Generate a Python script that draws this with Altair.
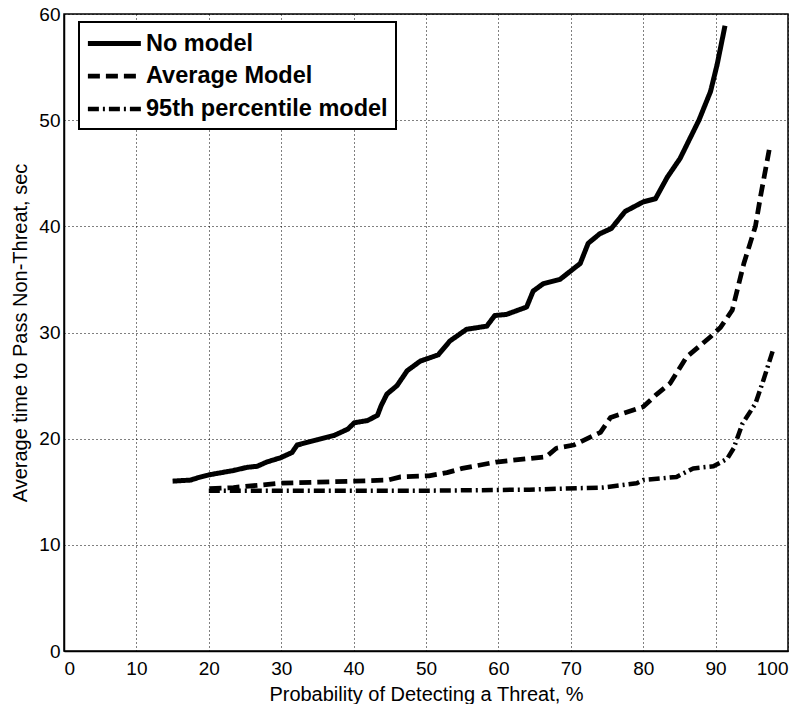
import altair as alt
import pandas as pd

series_names = ["No model", "Average Model", "95th percentile model"]

no_model_x = [15.0, 17.5, 18.4, 20.1, 23.4, 25.3, 26.7, 28.0, 29.9, 31.5, 32.2, 35.0, 37.3, 39.2,
              40.1, 41.9, 43.3, 43.8, 44.6, 46.0, 47.4, 49.2, 51.7, 53.3, 55.6, 58.4, 59.5, 61.1,
              63.9, 64.8, 66.2, 68.5, 71.3, 72.4, 74.0, 75.6, 77.5, 80.0, 81.7, 83.3, 85.1, 87.7,
              89.3, 90.2, 91.3]
no_model_y = [16.0, 16.1, 16.3, 16.6, 17.0, 17.3, 17.4, 17.8, 18.2, 18.7, 19.4, 19.9, 20.3, 20.9,
              21.5, 21.7, 22.2, 23.1, 24.2, 25.0, 26.4, 27.3, 27.9, 29.2, 30.3, 30.6, 31.6, 31.7,
              32.4, 33.9, 34.6, 35.0, 36.5, 38.4, 39.3, 39.8, 41.4, 42.3, 42.6, 44.6, 46.4, 50.0,
              52.7, 55.2, 58.9]

avg_x = [20.1, 23.4, 26.7, 29.9, 35.0, 40.1, 44.7, 46.5, 50.4, 52.9, 55.0, 59.7, 66.6, 68.0,
         70.4, 74.1, 75.5, 80.0, 81.9, 83.7, 86.0, 89.3, 90.7, 92.3, 93.9, 95.5, 96.2, 97.4]
avg_y = [15.3, 15.4, 15.6, 15.8, 15.9, 16.0, 16.1, 16.4, 16.5, 16.8, 17.2, 17.8, 18.3, 19.1,
         19.4, 20.6, 22.0, 23.0, 24.2, 25.2, 27.7, 29.6, 30.5, 32.1, 36.5, 40.0, 42.8, 47.2]

p95_x = [20.0, 30.0, 40.0, 50.4, 64.3, 74.5, 79.1, 80.0, 84.6, 86.9, 89.7, 91.6, 92.5, 93.7,
         95.5, 96.6, 98.0]
p95_y = [15.1, 15.1, 15.1, 15.1, 15.2, 15.4, 15.8, 16.1, 16.4, 17.2, 17.4, 18.1, 19.1, 21.4,
         23.3, 25.5, 28.5]

x_ticks = [0, 10, 20, 30, 40, 50, 60, 70, 80, 90, 100]
y_ticks = [0, 10, 20, 30, 40, 50, 60]

rows = []
for name, xs, ys in [(series_names[0], no_model_x, no_model_y),
                     (series_names[1], avg_x, avg_y),
                     (series_names[2], p95_x, p95_y)]:
    for i, (xv, yv) in enumerate(zip(xs, ys)):
        rows.append({"series": name, "x": xv, "y": yv, "order": i})
df = pd.DataFrame(rows)

FONT = "Liberation Sans"

chart = alt.Chart(df).mark_line(strokeJoin="round").encode(
    x=alt.X("x:Q", title="Probability of Detecting a Threat, %",
            scale=alt.Scale(domain=[0, 100], nice=False),
            axis=alt.Axis(values=x_ticks, format="d")),
    y=alt.Y("y:Q", title="Average time to Pass Non-Threat, sec",
            scale=alt.Scale(domain=[0, 60], nice=False),
            axis=alt.Axis(values=y_ticks, format="d")),
    order="order:Q",
    color=alt.Color("series:N", scale=alt.Scale(domain=series_names,
                                                 range=["black", "black", "black"]),
                    legend=alt.Legend(title=None, orient="none", legendX=15, legendY=8,
                                      symbolType="M-1.19,0H3.81", symbolSize=449,
                                      symbolStrokeWidth=6,
                                      labelFontSize=23.5, labelFontWeight="bold",
                                      labelFont=FONT, labelColor="black", labelLimit=400,
                                      labelOffset=32, padding=8, rowPadding=8,
                                      strokeColor="black", fillColor="white")),
    strokeDash=alt.StrokeDash("series:N", scale=alt.Scale(domain=series_names,
                                                           range=[[1, 0], [12, 6], [11, 4, 2, 4]]),
                              legend=None),
    strokeWidth=alt.StrokeWidth("series:N", scale=alt.Scale(domain=series_names,
                                                             range=[5, 4.5, 4]),
                                legend=None),
).properties(
    width=724, height=637,
    autosize=alt.AutoSizeParams(type="none"),
    padding={"left": 64, "top": 14, "right": 19, "bottom": 53},
).configure_view(
    stroke="black", strokeWidth=1.5
).configure_legend(
    strokeWidth=2
).configure_axis(
    domainColor="black", domainWidth=1.5,
    grid=True, gridColor="black", gridDash=[1, 3], gridOpacity=1, gridWidth=1,
    ticks=False,
    labelFont=FONT, labelFontSize=19, labelColor="black",
    titleFont=FONT, titleFontSize=20, titleFontWeight="normal", titleColor="black",
).configure_axisX(
    labelPadding=8, titlePadding=6,
).configure_axisY(
    labelPadding=4, titlePadding=8,
)

chart.save("out.html", embed_options={"renderer": "svg", "actions": False})
